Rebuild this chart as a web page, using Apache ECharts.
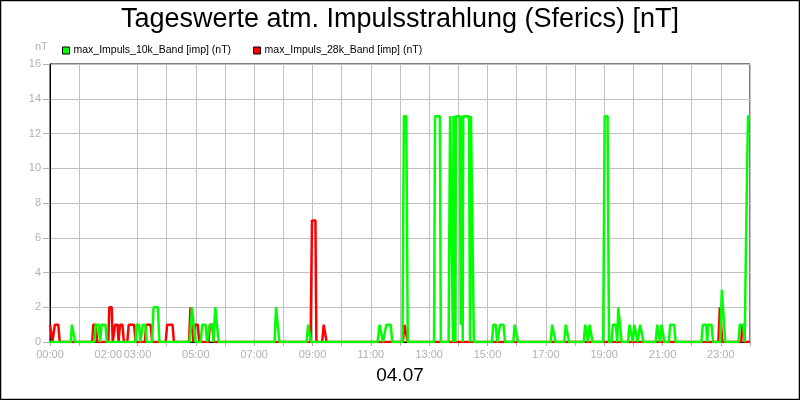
<!DOCTYPE html>
<html>
<head>
<meta charset="utf-8">
<script src="https://cdn.jsdelivr.net/npm/echarts@6/dist/echarts.min.js"></script>
<style>
  html, body { margin: 0; padding: 0; background: #fff; }
  #chart { width: 800px; height: 400px; }
</style>
</head>
<body>
<div id="chart"></div>
<script>
// Zeitpunkte in Minuten seit Mitternacht, Werte in nT
const dayLabel = '04.07';
const titleText = 'Tageswerte atm. Impulsstrahlung (Sferics) [nT]';
const name10k = 'max_Impuls_10k_Band [imp] (nT)';
const name28k = 'max_Impuls_28k_Band [imp] (nT)';

const tickMinutes = [0, 60, 180, 240, 300, 360, 420, 480, 540, 600, 660, 720, 780, 840,
  900, 960, 1020, 1080, 1140, 1200, 1260, 1320, 1380, 1440];
const labelMinutes = [0, 120, 180, 300, 420, 540, 660, 780, 900, 1020, 1140, 1260, 1380];

const band10k = [
  [0, 0], [43, 0], [45, 1], [49, 1], [52, 0],
  [91, 0], [94, 1], [100, 1], [103, 0], [106, 1], [114, 1], [117, 0],
  [176, 0], [178, 1], [183, 1], [186, 0],
  [189, 0], [191, 1], [196, 1], [199, 0],
  [210, 0], [213, 2], [222, 2], [225, 0],
  [287, 0], [290, 1], [292, 2], [296, 2], [299, 0],
  [310, 0], [313, 1], [320, 1], [323, 0],
  [326, 0], [329, 1], [334, 1], [336, 0],
  [337, 0], [340, 2], [344, 2], [347, 0],
  [462, 0], [465, 2], [469, 2], [472, 0],
  [528, 0], [531, 1], [534, 1], [537, 0],
  [674, 0], [678, 1], [682, 1], [685, 0],
  [688, 0], [692, 1], [701, 1], [704, 0],
  [725, 0], [728, 13], [733, 13], [736, 0],
  [790, 0], [792, 13], [802, 13], [804, 0],
  [820, 0], [823, 13], [827, 13], [829, 0], [830, 13], [833, 13], [834, 0],
  [835, 13], [843, 13], [845, 1], [846, 13], [848, 13], [849, 0],
  [850, 13], [862, 13], [864, 0], [865, 5], [866, 13], [870, 13], [872, 0],
  [909, 0], [912, 1], [917, 1], [920, 0],
  [923, 0], [926, 1], [933, 1], [936, 0],
  [953, 0], [956, 1], [960, 1], [963, 0],
  [1030, 0], [1033, 1], [1037, 1], [1040, 0],
  [1058, 0], [1061, 1], [1065, 1], [1068, 0],
  [1098, 0], [1101, 1], [1104, 1], [1107, 0], [1110, 1], [1113, 1], [1116, 0],
  [1138, 0], [1141, 13], [1147, 13], [1150, 0],
  [1155, 0], [1158, 1], [1164, 1], [1167, 0], [1169, 2], [1173, 2], [1176, 0],
  [1189, 0], [1192, 1], [1196, 1], [1199, 0], [1202, 1], [1206, 1], [1209, 0],
  [1211, 0], [1214, 1], [1218, 1], [1221, 0],
  [1246, 0], [1249, 1], [1252, 1], [1255, 0], [1258, 1], [1261, 1], [1264, 0],
  [1273, 0], [1276, 1], [1284, 1], [1287, 0],
  [1340, 0], [1343, 1], [1350, 1], [1352, 0], [1354, 1], [1361, 1], [1364, 0],
  [1379, 0], [1382, 3], [1386, 3], [1389, 0],
  [1416, 0], [1419, 1], [1426, 1], [1429, 0],
  [1431, 0], [1434, 10], [1436, 13], [1440, 13]
];

const band28k = [
  [0, 1], [3, 1], [5, 0],
  [8, 0], [10, 1], [17, 1], [20, 0],
  [87, 0], [89, 1], [94, 1], [97, 0],
  [120, 0], [122, 2], [127, 2], [129, 0],
  [132, 0], [134, 1], [139, 1], [141, 0],
  [142, 0], [144, 1], [149, 1], [152, 0],
  [159, 0], [162, 1], [173, 1], [176, 0],
  [195, 0], [198, 1], [207, 1], [210, 0],
  [238, 0], [241, 1], [252, 1], [255, 0],
  [286, 0], [289, 2], [292, 2], [295, 0], [298, 1], [304, 1], [307, 0],
  [326, 0], [329, 1], [334, 1], [337, 0],
  [536, 0], [539, 7], [546, 7], [548, 0],
  [560, 0], [563, 1], [566, 1], [569, 0],
  [726, 0], [729, 1], [733, 1], [736, 0],
  [1375, 0], [1378, 2], [1380, 2], [1383, 0],
  [1422, 0], [1424, 1], [1427, 1], [1430, 0],
  [1440, 0]
];

const font = 'Liberation Sans';
const grey = '#b0b0b0';

function hhmm(m) {
  const h = Math.floor(m / 60), mm = m % 60;
  return String(h).padStart(2, '0') + ':' + String(mm).padStart(2, '0');
}

const chart = echarts.init(document.getElementById('chart'), null, { renderer: 'canvas' });

chart.setOption({
  animation: false,
  backgroundColor: '#fff',
  textStyle: { fontFamily: font },
  title: {
    text: titleText,
    left: 'center',
    top: 1,
    textStyle: { fontFamily: font, fontSize: 27, fontWeight: 'normal', color: '#000' }
  },
  legend: {
    left: 57,
    top: 40,
    itemWidth: 7,
    itemHeight: 7,
    itemGap: 22,
    icon: 'rect',
    data: [name10k, name28k],
    itemStyle: { borderColor: '#000', borderWidth: 1 },
    textStyle: { fontFamily: font, fontSize: 10.5, color: '#000', padding: [0, 0, 0, -1] }
  },
  graphic: [
    {
      type: 'text', left: 35, top: 41,
      style: { text: 'nT', fontFamily: font, fontSize: 11, fill: grey }
    },
    {
      type: 'rect', silent: true,
      shape: { x: 0.5, y: 0.5, width: 799, height: 399 },
      style: { fill: 'none', stroke: '#000', lineWidth: 1.5 }
    }
  ],
  grid: {
    left: 50, right: 50, top: 64, bottom: 58,
    show: true, borderColor: '#000', borderWidth: 1
  },
  xAxis: {
    type: 'value',
    min: 0,
    max: 1440,
    interval: 60,
    name: dayLabel,
    nameLocation: 'middle',
    nameGap: 24,
    nameTextStyle: { fontFamily: font, fontSize: 19, color: '#000' },
    axisLine: { show: true, lineStyle: { color: '#000', width: 1 } },
    axisTick: { show: true, length: 4, customValues: tickMinutes, lineStyle: { color: grey } },
    axisLabel: {
      customValues: labelMinutes,
      formatter: v => hhmm(v),
      color: grey, fontFamily: font, fontSize: 11, margin: 7
    },
    splitLine: { show: true, lineStyle: { color: '#c0c0c0', width: 1 } }
  },
  yAxis: {
    type: 'value',
    min: 0,
    max: 16,
    interval: 2,
    axisLine: { show: true, lineStyle: { color: '#000', width: 1 } },
    axisTick: { show: true, length: 7, lineStyle: { color: grey } },
    axisLabel: { color: grey, fontFamily: font, fontSize: 11, margin: 9 },
    splitLine: { show: true, lineStyle: { color: '#c0c0c0', width: 1 } }
  },
  series: [
    {
      name: name28k,
      type: 'line',
      data: band28k,
      showSymbol: false,
      symbol: 'none',
      color: '#ff0000',
      lineStyle: { color: '#ff0000', width: 2.5 }
    },
    {
      name: name10k,
      type: 'line',
      data: band10k,
      showSymbol: false,
      symbol: 'none',
      color: '#00ff00',
      lineStyle: { color: '#00ff00', width: 2.5 }
    }
  ]
});
</script>
</body>
</html>
